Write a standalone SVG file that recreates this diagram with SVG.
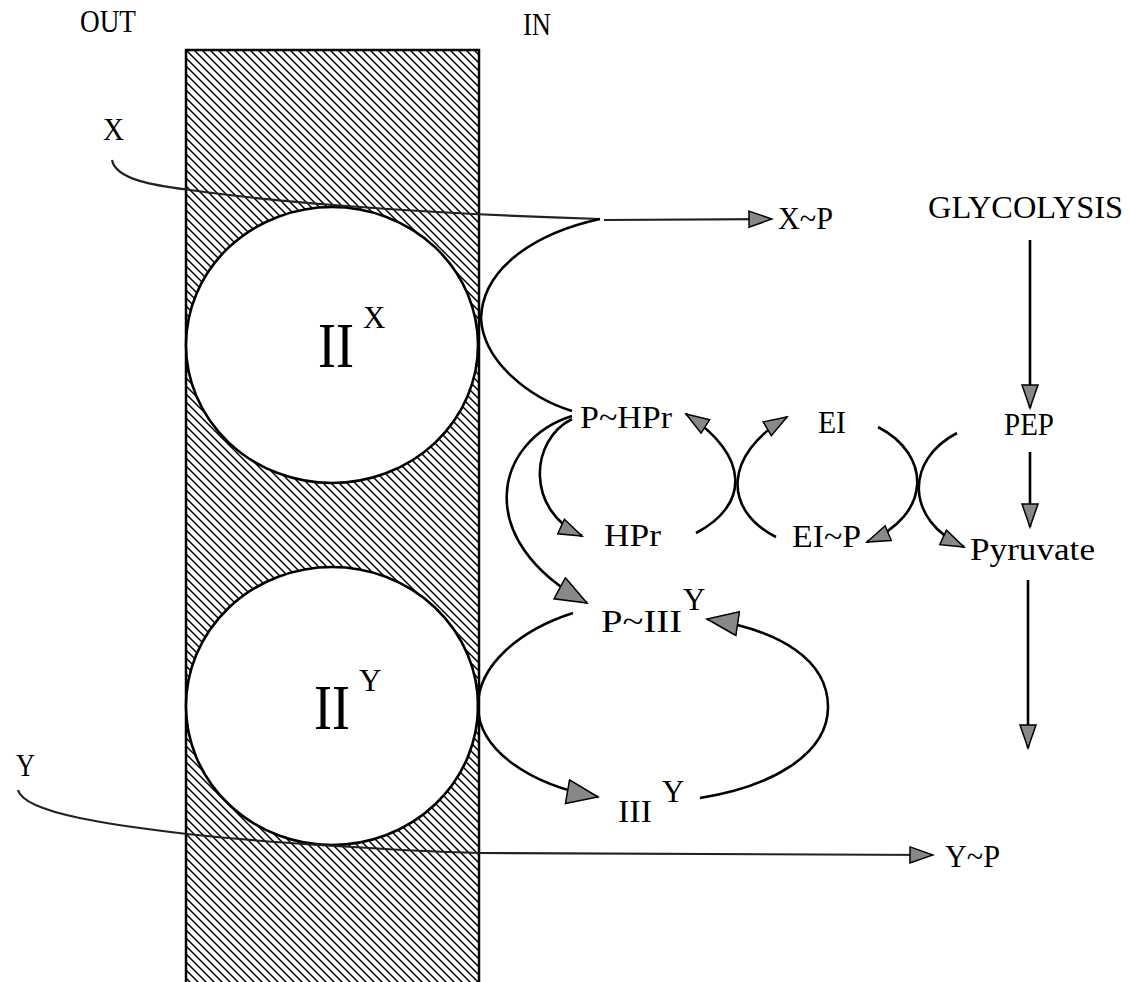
<svg xmlns="http://www.w3.org/2000/svg" width="1130" height="982" viewBox="0 0 1130 982">
<defs>
<pattern id="hatch" patternUnits="userSpaceOnUse" width="8" height="8">
<path d="M-2,-2 L10,10 M-2,6 L2,10 M6,-2 L10,2" stroke="#000" stroke-width="1.5"/>
</pattern>
<marker id="ah" markerUnits="userSpaceOnUse" markerWidth="26" markerHeight="20" refX="24" refY="9" orient="auto">
<path d="M1,1 L24,9 L1,17 Z" fill="#888" stroke="#000" stroke-width="1.5"/>
</marker>
<marker id="ahL" markerUnits="userSpaceOnUse" markerWidth="34" markerHeight="28" refX="32" refY="13" orient="auto">
<path d="M1,1 L32,13 L1,25 Z" fill="#888" stroke="#000" stroke-width="1.5"/>
</marker>
</defs>
<style>
text{font-family:"Liberation Serif","Times New Roman",serif;fill:#000}
.t{font-size:32px}
.big{font-size:64px}
.sup{font-size:31px}
.c{fill:none;stroke:#000;stroke-width:2.6}
.th{fill:none;stroke:#222;stroke-width:2.2}
</style>
<g id="membrane">
<rect x="186" y="50" width="293" height="960" fill="url(#hatch)" stroke="#000" stroke-width="2.5"/>
</g>
<g id="IIX">
<ellipse cx="332" cy="345" rx="146" ry="138" fill="#fff" stroke="#000" stroke-width="2.6"/>
<text class="big" x="318" y="367" textLength="36" lengthAdjust="spacingAndGlyphs">II</text>
<text class="sup" x="363" y="328">X</text>
</g>
<g id="IIY">
<ellipse cx="332" cy="706" rx="146" ry="139" fill="#fff" stroke="#000" stroke-width="2.6"/>
<text class="big" x="314" y="729" textLength="36" lengthAdjust="spacingAndGlyphs">II</text>
<text class="sup" x="359" y="691">Y</text>
</g>
<g id="labels">
<text class="t" x="80" y="32" textLength="56" lengthAdjust="spacingAndGlyphs">OUT</text>
<text class="t" x="523" y="35" textLength="28" lengthAdjust="spacingAndGlyphs">IN</text>
<text class="t" x="103" y="140" textLength="21" lengthAdjust="spacingAndGlyphs">X</text>
<text class="t" x="16" y="776" textLength="19" lengthAdjust="spacingAndGlyphs">Y</text>
</g>
<g id="XP"><text class="t" x="778" y="229" textLength="55" lengthAdjust="spacingAndGlyphs">X~P</text></g>
<g id="YP"><text class="t" x="945" y="867" textLength="55" lengthAdjust="spacingAndGlyphs">Y~P</text></g>
<g id="GLYCOLYSIS"><text class="t" x="928" y="218" textLength="195" lengthAdjust="spacingAndGlyphs">GLYCOLYSIS</text></g>
<g id="PHPr"><text class="t" x="580" y="428" textLength="92" lengthAdjust="spacingAndGlyphs">P~HPr</text></g>
<g id="EI"><text class="t" x="818" y="433" textLength="28" lengthAdjust="spacingAndGlyphs">EI</text></g>
<g id="PEP"><text class="t" x="1004" y="435" textLength="50" lengthAdjust="spacingAndGlyphs">PEP</text></g>
<g id="HPr"><text class="t" x="604" y="546" textLength="57" lengthAdjust="spacingAndGlyphs">HPr</text></g>
<g id="EIP"><text class="t" x="792" y="547" textLength="69" lengthAdjust="spacingAndGlyphs">EI~P</text></g>
<g id="Pyruvate"><text class="t" x="970" y="560" textLength="125" lengthAdjust="spacingAndGlyphs">Pyruvate</text></g>
<g id="PIIIY"><text class="t" x="601" y="632" textLength="81" lengthAdjust="spacingAndGlyphs">P~III</text><text class="sup" x="683" y="610">Y</text></g>
<g id="IIIY"><text class="t" x="618" y="822" textLength="34" lengthAdjust="spacingAndGlyphs">III</text><text class="sup" x="662" y="802">Y</text></g>
<g id="connectors">
<path class="th" d="M112,160 C116,181 160,186 190,190 C260,200 400,213 600,219"/>
<path class="th" d="M604,220 L772,219" marker-end="url(#ah)"/>
<path class="c" d="M600,219 C540,232 483,265 481,318 C483,362 530,398 572,411"/>
<path class="c" d="M572,419 C530,440 525,510 582,536" marker-end="url(#ah)"/>
<path class="c" d="M572,416 C495,440 470,540 587,603" marker-end="url(#ahL)"/>
<path class="c" d="M696,533 C750,505 750,455 686,414" marker-end="url(#ah)"/>
<path class="c" d="M776,537 C723,510 723,455 787,417" marker-end="url(#ah)"/>
<path class="c" d="M878,427 C932,455 932,515 867,542" marker-end="url(#ah)"/>
<path class="c" d="M957,433 C905,460 905,520 964,547" marker-end="url(#ah)"/>
<path class="c" d="M1030,240 L1030,408" marker-end="url(#ah)"/>
<path class="c" d="M1030,452 L1030,527" marker-end="url(#ah)"/>
<path class="c" d="M1028,580 L1028,748" marker-end="url(#ah)"/>
<path class="c" d="M573,613 C520,630 478,665 478,706 C478,750 530,785 598,797" marker-end="url(#ahL)"/>
<path class="c" d="M700,798 C770,787 828,755 828,707 C828,660 780,630 707,619" marker-end="url(#ahL)"/>
<path class="th" d="M18,790 C24,814 120,826 187,834 C260,842 400,851 480,853 L933,855" marker-end="url(#ah)"/>
</g>
</svg>
